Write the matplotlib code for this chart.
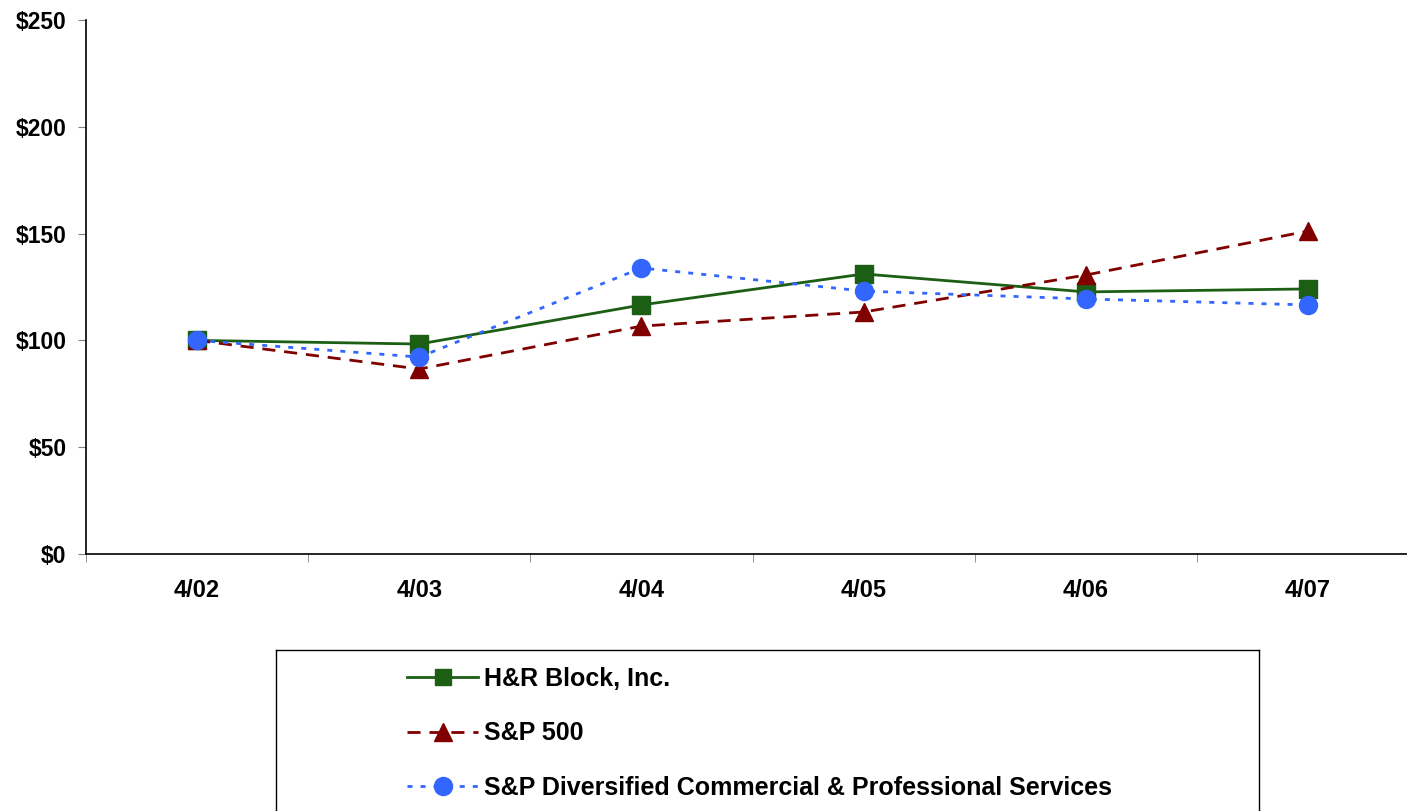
import matplotlib
matplotlib.use("Agg")
import matplotlib.pyplot as plt
from matplotlib.lines import Line2D
from matplotlib.ticker import FixedLocator

plt.rcParams['font.family'] = ['Liberation Sans', 'DejaVu Sans']

categories = ["4/02", "4/03", "4/04", "4/05", "4/06", "4/07"]
hrb = [100.0, 98.3, 116.6, 131.1, 122.7, 124.1]
sp500 = [100.0, 86.6, 106.7, 113.3, 130.6, 151.2]
spdiv = [100.0, 92.2, 133.9, 123.1, 119.4, 116.6]
series_labels = ["H&R Block, Inc.", "S&P 500",
                 "S&P Diversified Commercial & Professional Services"]
yticks = [0, 50, 100, 150, 200, 250]
ytick_labels = ["$0", "$50", "$100", "$150", "$200", "$250"]

W, H = 1407, 811
fig = plt.figure(figsize=(W / 100, H / 100), dpi=100)

x0, x1 = 86, 86 + 6 * 222.2
y0, y1 = 554, 20
ax = fig.add_axes([x0 / W, (H - y0) / H, (x1 - x0) / W, (y0 - y1) / H])

x = list(range(len(categories)))
green = "#1B5E14"
red = "#800000"
blue = "#3366FF"

ax.plot(x, hrb, color=green, lw=2.0, marker="s", markersize=12.5,
        markeredgecolor=green, label=series_labels[0], zorder=3)
ax.plot(x, sp500, color=red, lw=2.0, dashes=(4.7, 3.2), marker="^",
        markersize=13.5, markeredgecolor=red, label=series_labels[1], zorder=3)
ax.plot(x, spdiv, color=blue, lw=2.0, dashes=(1.8, 2.9), marker="o",
        markersize=13, markeredgecolor=blue, label=series_labels[2], zorder=4)

ax.set_xlim(-0.5, len(categories) - 0.5)
ax.set_ylim(0, 250)
ax.set_yticks(yticks)
ax.set_yticklabels(ytick_labels, fontsize=16.5, fontweight="bold")
ax.set_xticks(x)
ax.set_xticklabels(categories, fontsize=17, fontweight="bold")
ax.xaxis.set_minor_locator(FixedLocator([i - 0.5 for i in range(len(categories) + 1)]))
ax.tick_params(axis="x", which="major", length=0, pad=18)
ax.tick_params(axis="x", which="minor", length=6, color="#808080", direction="out")
ax.tick_params(axis="y", which="major", length=6, color="#808080", pad=8, direction="out")
for s in ["top", "right"]:
    ax.spines[s].set_visible(False)
ax.spines["left"].set_color("black")
ax.spines["bottom"].set_color("black")
ax.spines["left"].set_linewidth(1.2)
ax.spines["bottom"].set_linewidth(1.2)
ax.patch.set_alpha(0)

# legend box
lx0, lx1 = 276, 1259
ly0, ly1 = 650, 840
lax = fig.add_axes([lx0 / W, (H - ly1) / H, (lx1 - lx0) / W, (ly1 - ly0) / H])
lax.set_xticks([])
lax.set_yticks([])
for s in lax.spines.values():
    s.set_color("black")
    s.set_linewidth(1.0)

h1 = Line2D([], [], color=green, lw=2.0, marker="s", markersize=11)
h2 = Line2D([], [], color=red, lw=2.0, dashes=(4.7, 3.2), marker="^", markersize=13)
h3 = Line2D([], [], color=blue, lw=2.0, dashes=(1.8, 2.9), marker="o", markersize=13)
leg = lax.legend([h1, h2, h3], series_labels, loc="upper left",
                 bbox_to_anchor=(407 / W, 1 - 667 / H),
                 bbox_transform=fig.transFigure,
                 frameon=False, handlelength=2.85, handletextpad=0.25,
                 labelspacing=1.22, borderaxespad=0, borderpad=0,
                 prop={"size": 18, "weight": "bold"})

fig.savefig("out.png", dpi=100)
